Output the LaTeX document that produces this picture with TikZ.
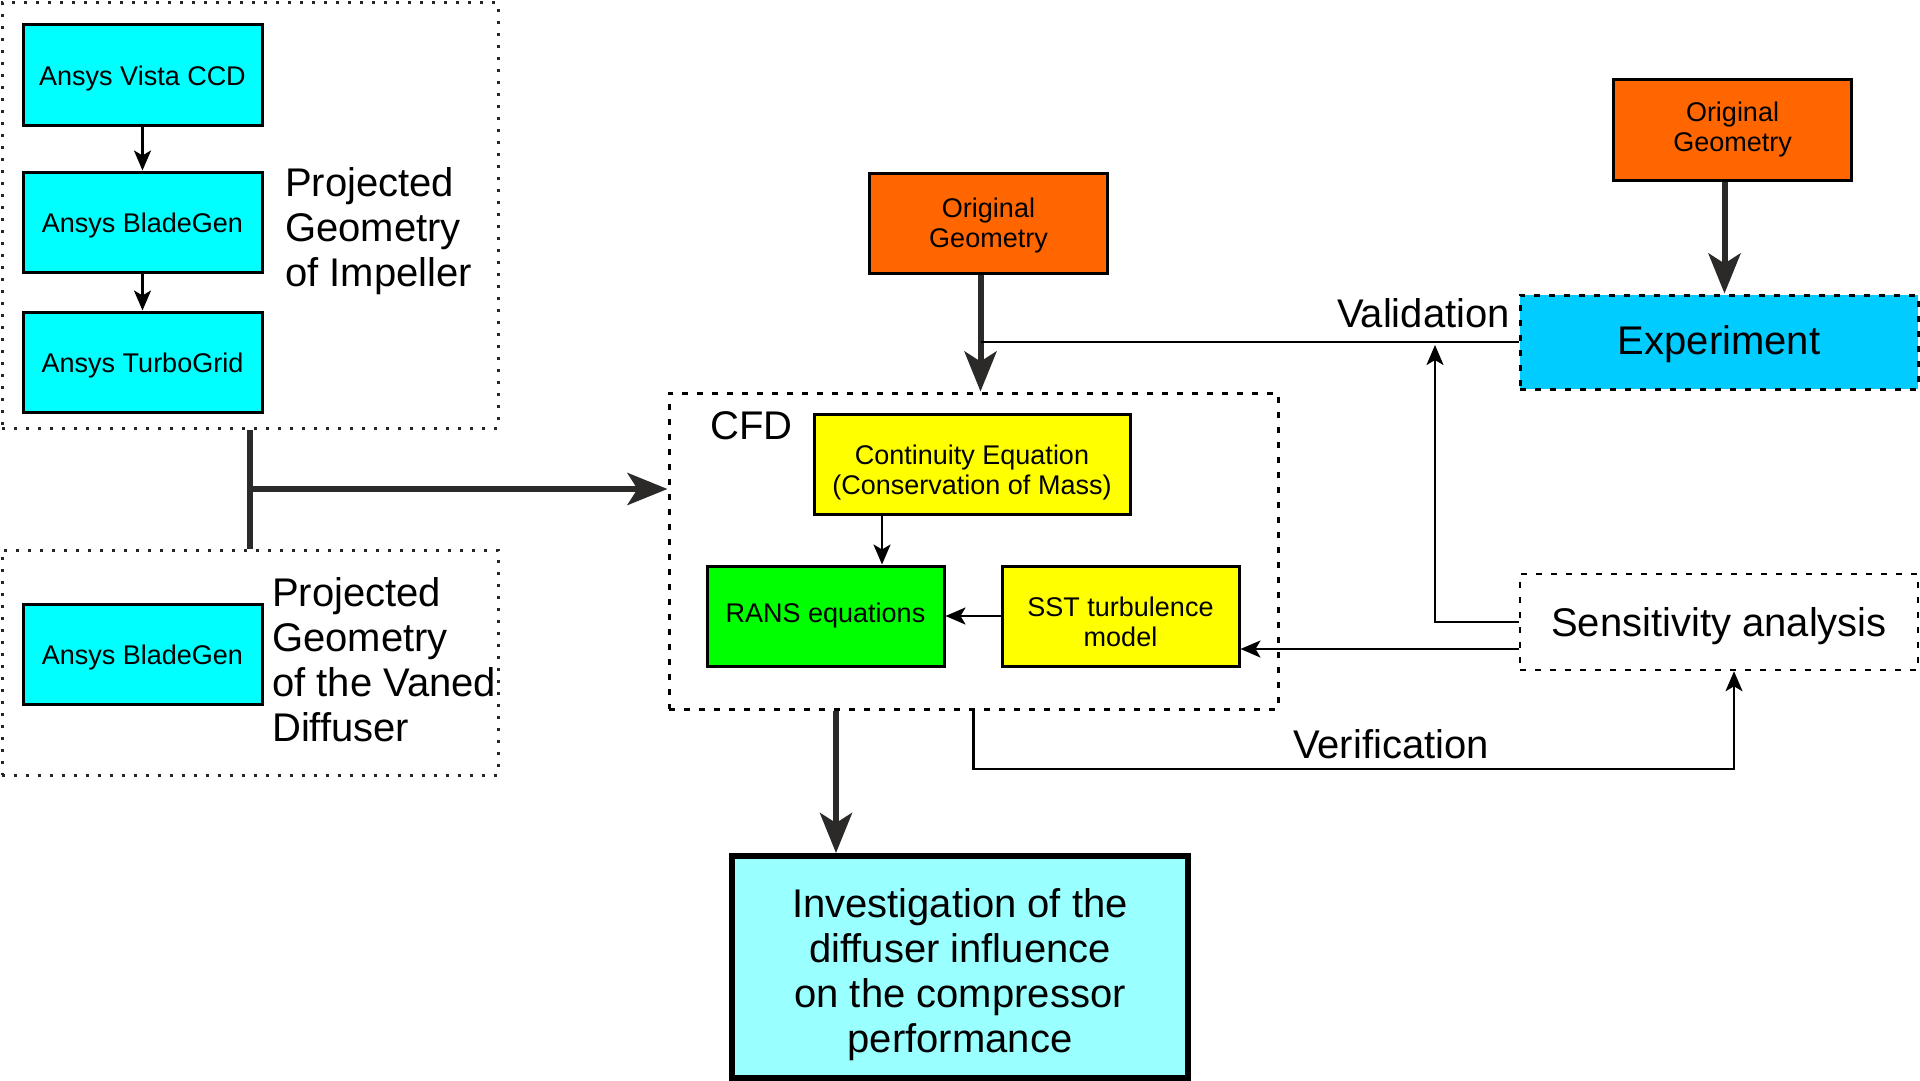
\documentclass[tikz,border=0pt]{standalone}
\usepackage{fontspec}
\setmainfont{Liberation Sans}
\usetikzlibrary{arrows.meta}

\definecolor{toolcyan}{HTML}{00FFFF}
\definecolor{geomorange}{HTML}{FF6600}
\definecolor{eqnyellow}{HTML}{FFFF00}
\definecolor{ransgreen}{HTML}{00FF00}
\definecolor{expblue}{HTML}{00CCFF}
\definecolor{invcyan}{HTML}{99FFFF}
\definecolor{linegray}{HTML}{2B2A29}

\newcommand{\firstline}[1]{\rule{0pt}{#1}}

\begin{document}
\begin{tikzpicture}[x=1pt,y=-1pt]
    \tikzstyle{box}=[draw=black, line width=3pt, minimum height=100pt, inner sep=2pt, align=center, font=\fontsize{27}{30}\selectfont]
    \tikzstyle{lowered}=[execute at begin node={\rule{0pt}{#1}}]
    \tikzstyle{tool}=[box, fill=toolcyan, minimum width=239pt, lowered=27pt]
    \tikzstyle{geom}=[box, fill=geomorange, minimum width=238pt]
    \tikzstyle{eqn}=[box, fill=eqnyellow, minimum width=237pt]
    \tikzstyle{group}=[draw=black!85, line width=3pt, dash pattern=on 3pt off 9pt]
    \tikzstyle{dashgroup}=[draw=black, line width=3pt, dash pattern=on 6pt off 9pt]
    \tikzstyle{bigfont}=[font=\fontsize{40}{45}\selectfont]
    \tikzstyle{bigtext}=[bigfont, inner sep=0pt, align=left]
    \tikzstyle{thin line}=[draw=black, line width=2.5pt]
    \tikzstyle{thin arrow}=[thin line, -{Stealth[length=20pt,width=17pt,inset=5pt]}]
    \tikzstyle{thick line}=[draw=linegray, line width=6pt]
    \tikzstyle{thick arrow}=[thick line, -{Stealth[length=40pt,width=32pt,inset=10pt]}]

    \useasboundingbox (0,0) rectangle (1920,1081);

    % geometry groups
    \node[group, minimum width=496pt, minimum height=425pt] (impeller) at (250,215.5) {};
    \node[group, minimum width=496pt, minimum height=225pt] (diffuser) at (250,662.5) {};
    \node[tool] (vista) at (142.5,75) {Ansys Vista CCD};
    \node[tool] (bladegen) at (142.5,222) {Ansys BladeGen};
    \node[tool] (turbogrid) at (142.5,362) {Ansys TurboGrid};
    \node[tool] (bladegenB) at (142.5,654) {Ansys BladeGen};
    \node[bigtext, anchor=west] (implabel) at (285,231) {Projected\\Geometry\\of Impeller};
    \node[bigtext, anchor=west] (difflabel) at (272,660) {Projected\\Geometry\\of the Vaned\\Diffuser};

    % CFD
    \node[dashgroup, minimum width=609pt, minimum height=316pt] (cfd) at (973.5,551) {};
    \node[bigtext, anchor=west] (cfdlabel) at (710,426) {CFD};
    \node[eqn, minimum width=316pt] (conti) at (972,464) {\firstline{37pt}Continuity Equation\\(Conservation of Mass)};
    \node[box, fill=ransgreen, minimum width=237pt] (rans) at (825.5,616) {RANS equations};
    \node[eqn] (sst) at (1120.5,616) {\firstline{32pt}SST turbulence\\model};

    \node[geom] (og1) at (988.5,223) {\firstline{25pt}Original\\Geometry};
    \node[geom] (og2) at (1732.5,130) {Original\\Geometry};
    \node[dashgroup, bigfont, fill=expblue, minimum width=398pt, minimum height=94pt, lowered=34pt] (exp) at (1719,342) {Experiment};
    \node[dashgroup, bigfont, line width=2.5pt, fill=white, minimum width=398pt, minimum height=96pt, lowered=37pt] (sens) at (1719,622) {Sensitivity analysis};
    \node[box, bigfont, fill=invcyan, line width=6pt, minimum width=456pt, minimum height=222pt] (inv) at (960,967) {\firstline{44pt}Investigation of the\\diffuser influence\\on the compressor\\performance};

    \node[bigtext, anchor=east] (vallabel) at (1510,313) {Validation};
    \node[bigtext] (verlabel) at (1391,744) {Verification};

    \coordinate (joint) at (250,489);
    \coordinate (valjoin) at (980.5,342);
    \coordinate (valup) at (1435,345);
    \coordinate (verturn) at (1734,769);

    % connectors
    \draw[thin arrow] (vista) -- (bladegen);
    \draw[thin arrow] (bladegen) -- (turbogrid);
    \draw[thick line] (impeller.south) -- (diffuser.north);
    \draw[thick arrow] (joint) -- (joint -| cfd.west);
    \draw[thick arrow] ([xshift=-8pt]og1.south) -- ([xshift=-8pt]og1.south |- cfd.north);
    \draw[thick arrow] ([xshift=-8pt]og2.south) -- ([xshift=-8pt]og2.south |- exp.north);
    \draw[thin line] (exp.west) -- (exp.west -| valjoin);
    \draw[thin arrow] ([xshift=-90pt]conti.south) -- ([xshift=-90pt]conti.south |- rans.north);
    \draw[thin arrow] (sst) -- (rans);
    \draw[thin arrow] (sens.west) -| (valup);
    \draw[thin arrow] ([yshift=-27pt]sens.west) -- ([yshift=-27pt]sens.west -| sst.east);
    \draw[thin arrow] (cfd.south) |- (verturn) -- (verturn |- sens.south);
    \draw[thick arrow] ([xshift=-137.5pt]cfd.south) -- ([xshift=-137.5pt]cfd.south |- inv.north);
\end{tikzpicture}
\end{document}
